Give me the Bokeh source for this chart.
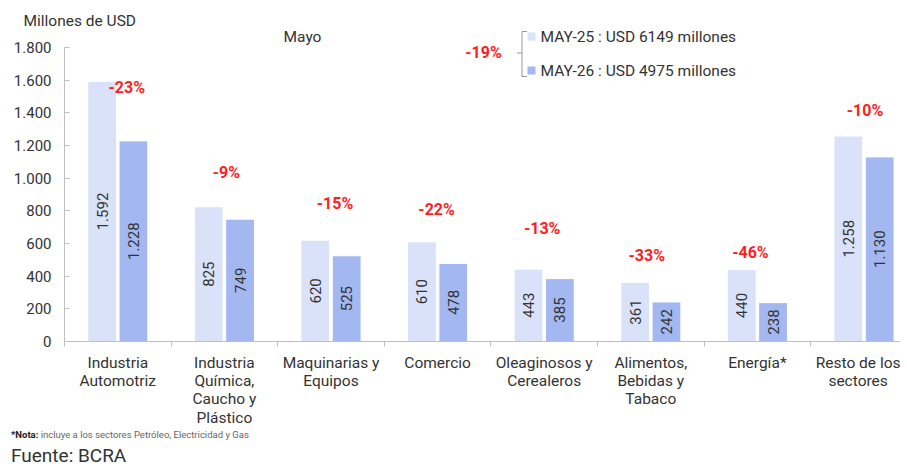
import math
from bokeh.plotting import figure
from bokeh.models import FixedTicker, Label, ColumnDataSource, Range1d, Title, Div
from bokeh.layouts import column
from bokeh.core.properties import value
from bokeh.embed import file_html
from bokeh.resources import INLINE

# ---------------- data ----------------
categories = ["Industria\nAutomotriz", "Industria\nQuímica,\nCaucho y\nPlástico",
              "Maquinarias y\nEquipos", "Comercio", "Oleaginosos y\nCerealeros",
              "Alimentos,\nBebidas y\nTabaco", "Energía*", "Resto de los\nsectores"]
may25 = [1592, 825, 620, 610, 443, 361, 440, 1258]
may26 = [1228, 749, 525, 478, 385, 242, 238, 1130]
pct_labels = ["-23%", "-9%", "-15%", "-22%", "-13%", "-33%", "-46%", "-10%"]
pct_heights = [1558, 1035, 845, 808, 690, 527, 545, 1417]
y_ticks = [0, 200, 400, 600, 800, 1000, 1200, 1400, 1600, 1800]
legend_labels = ["MAY-25 : USD 6149 millones", "MAY-26 : USD 4975 millones"]
total_change = "-19%"
note_bold = "*Nota:"
note_text = "incluye a los sectores Petróleo, Electricidad y Gas"
source_text = "Fuente: BCRA"

LIGHT = "#D9E2F9"
DARK = "#A3B8F1"
RED = "#FF1E1E"
TXT = "#333333"
AX = "#BFBFBF"
FONT = "Roboto"

def fmt(v):
    return f"{v:,}".replace(",", ".")

# ---------------- geometry helpers (canvas px -> data) ----------------
CAT_PX = 106.6
FRAME_LEFT = 64
FRAME_TOP = 28
ZERO_PY = 341
PX_PER_UNIT = 294 / 1800

def X(px):
    return (px - FRAME_LEFT) / CAT_PX

def Y(py):
    return (ZERO_PY - py) / PX_PER_UNIT

W, H = 900, 431
p = figure(width=W, height=H, output_backend="svg", toolbar_location=None,
           x_range=Range1d(0, X(W)), y_range=Range1d(0, Y(FRAME_TOP)),
           min_border_left=FRAME_LEFT, min_border_right=0, min_border_top=FRAME_TOP,
           min_border_bottom=H - ZERO_PY)
p.outline_line_color = None
p.xgrid.visible = False
p.ygrid.visible = False
p.background_fill_color = "white"
p.border_fill_color = "white"

p.add_layout(Title(text="Millones de USD", align="left", offset=23 - FRAME_LEFT,
                   text_font=FONT, text_font_size="15.5px", text_font_style="normal",
                   text_color=TXT, standoff=-3), "above")

n = len(categories)
centers = [i + 0.5 for i in range(n)]
off = 0.147
bw = 0.27
src = ColumnDataSource(dict(
    x25=[c - off for c in centers], x26=[c + off for c in centers],
    v25=may25, v26=may26,
    h25=[v / 2 for v in may25], h26=[v / 2 for v in may26],
    t25=[fmt(v) for v in may25], t26=[fmt(v) for v in may26],
))
p.vbar(x="x25", top="v25", width=bw, source=src, fill_color=LIGHT, line_color="white", line_width=1)
p.vbar(x="x26", top="v26", width=bw, source=src, fill_color=DARK, line_color="white", line_width=1)

for xk, hk, tk in (("x25", "h25", "t25"), ("x26", "h26", "t26")):
    p.text(x=xk, y=hk, text=tk, source=src, angle=math.pi / 2,
           text_align="center", text_baseline="middle",
           text_font=value(FONT), text_font_size="15px", text_color=TXT)

pct_dx = [9, 2, 4, -1, -2, -4, -7, 1]
psrc = ColumnDataSource(dict(x=[c + d / CAT_PX for c, d in zip(centers, pct_dx)],
                             y=pct_heights, t=pct_labels))
p.text(x="x", y="y", text="t", source=psrc, text_align="center", text_baseline="middle",
       text_font=value(FONT), text_font_size="16px", text_font_style="bold", text_color=RED)

# ---------------- axes ----------------
ya = p.yaxis[0]
ya.ticker = FixedTicker(ticks=y_ticks)
ya.major_label_overrides = {t: fmt(t) for t in y_ticks}
ya.bounds = (0, 1800)
ya.axis_line_color = AX
ya.major_tick_line_color = AX
ya.major_tick_in = 5
ya.major_tick_out = 0
ya.minor_tick_line_color = None
ya.major_label_standoff = 13
ya.major_label_text_font = FONT
ya.major_label_text_font_size = "15px"
ya.major_label_text_color = TXT

xa = p.xaxis[0]
xa.ticker = FixedTicker(ticks=centers, minor_ticks=list(range(n + 1)))
xa.major_label_overrides = {c: lab for c, lab in zip(centers, categories)}
xa.axis_line_color = AX
xa.major_tick_line_color = None
xa.major_tick_in = 0
xa.major_tick_out = 0
xa.minor_tick_line_color = AX
xa.minor_tick_in = 0
xa.minor_tick_out = 5
xa.major_label_standoff = 7
xa.major_label_text_font = FONT
xa.major_label_text_font_size = "15.5px"
xa.major_label_text_color = TXT
xa.major_label_text_line_height = 1.02

# ---------------- texts in plot ----------------
def lab(px, py, text, size, align="left", color=TXT, style="normal"):
    p.add_layout(Label(x=X(px), y=Y(py), text=text, text_font=FONT,
                       text_font_size=size, text_color=color, text_align=align,
                       text_baseline="middle", text_font_style=style))

lab(302, 36, "Mayo", "15.5px", align="center")
lab(483, 52, total_change, "16px", align="center", color=RED, style="bold")
lab(540, 36, legend_labels[0], "15.5px")
lab(540, 70, legend_labels[1], "15.5px")

# legend squares
p.rect(x=[X(531), X(531)], y=[Y(36), Y(70)], width=8 / CAT_PX, height=8 / PX_PER_UNIT,
       fill_color=[LIGHT, DARK], line_color=None)
# bracket
bx, bt, bb, bm = 521.5, 31, 76, 52.5
p.line(x=[X(bx + 5), X(bx), X(bx), X(bx + 5)], y=[Y(bt), Y(bt), Y(bb), Y(bb)],
       line_color="#999999", line_width=1)
p.line(x=[X(bx - 5), X(bx)], y=[Y(bm), Y(bm)], line_color="#999999", line_width=1)

# ---------------- notes below ----------------
notes = Div(width=W, margin=0, text=(
    f'<div style="font-family:Roboto;color:{TXT};padding-left:11px;">'
    f'<div style="font-size:9.5px;line-height:8px;white-space:nowrap;color:#666666;">'
    f'<b style="color:#222222;">{note_bold}</b> {note_text}</div>'
    f'<div style="font-size:19px;line-height:18px;margin-top:8px;white-space:nowrap;">{source_text}</div>'
    '</div>'))

layout = column(p, notes, spacing=0)
open("out.html", "w").write(file_html(layout, INLINE))
